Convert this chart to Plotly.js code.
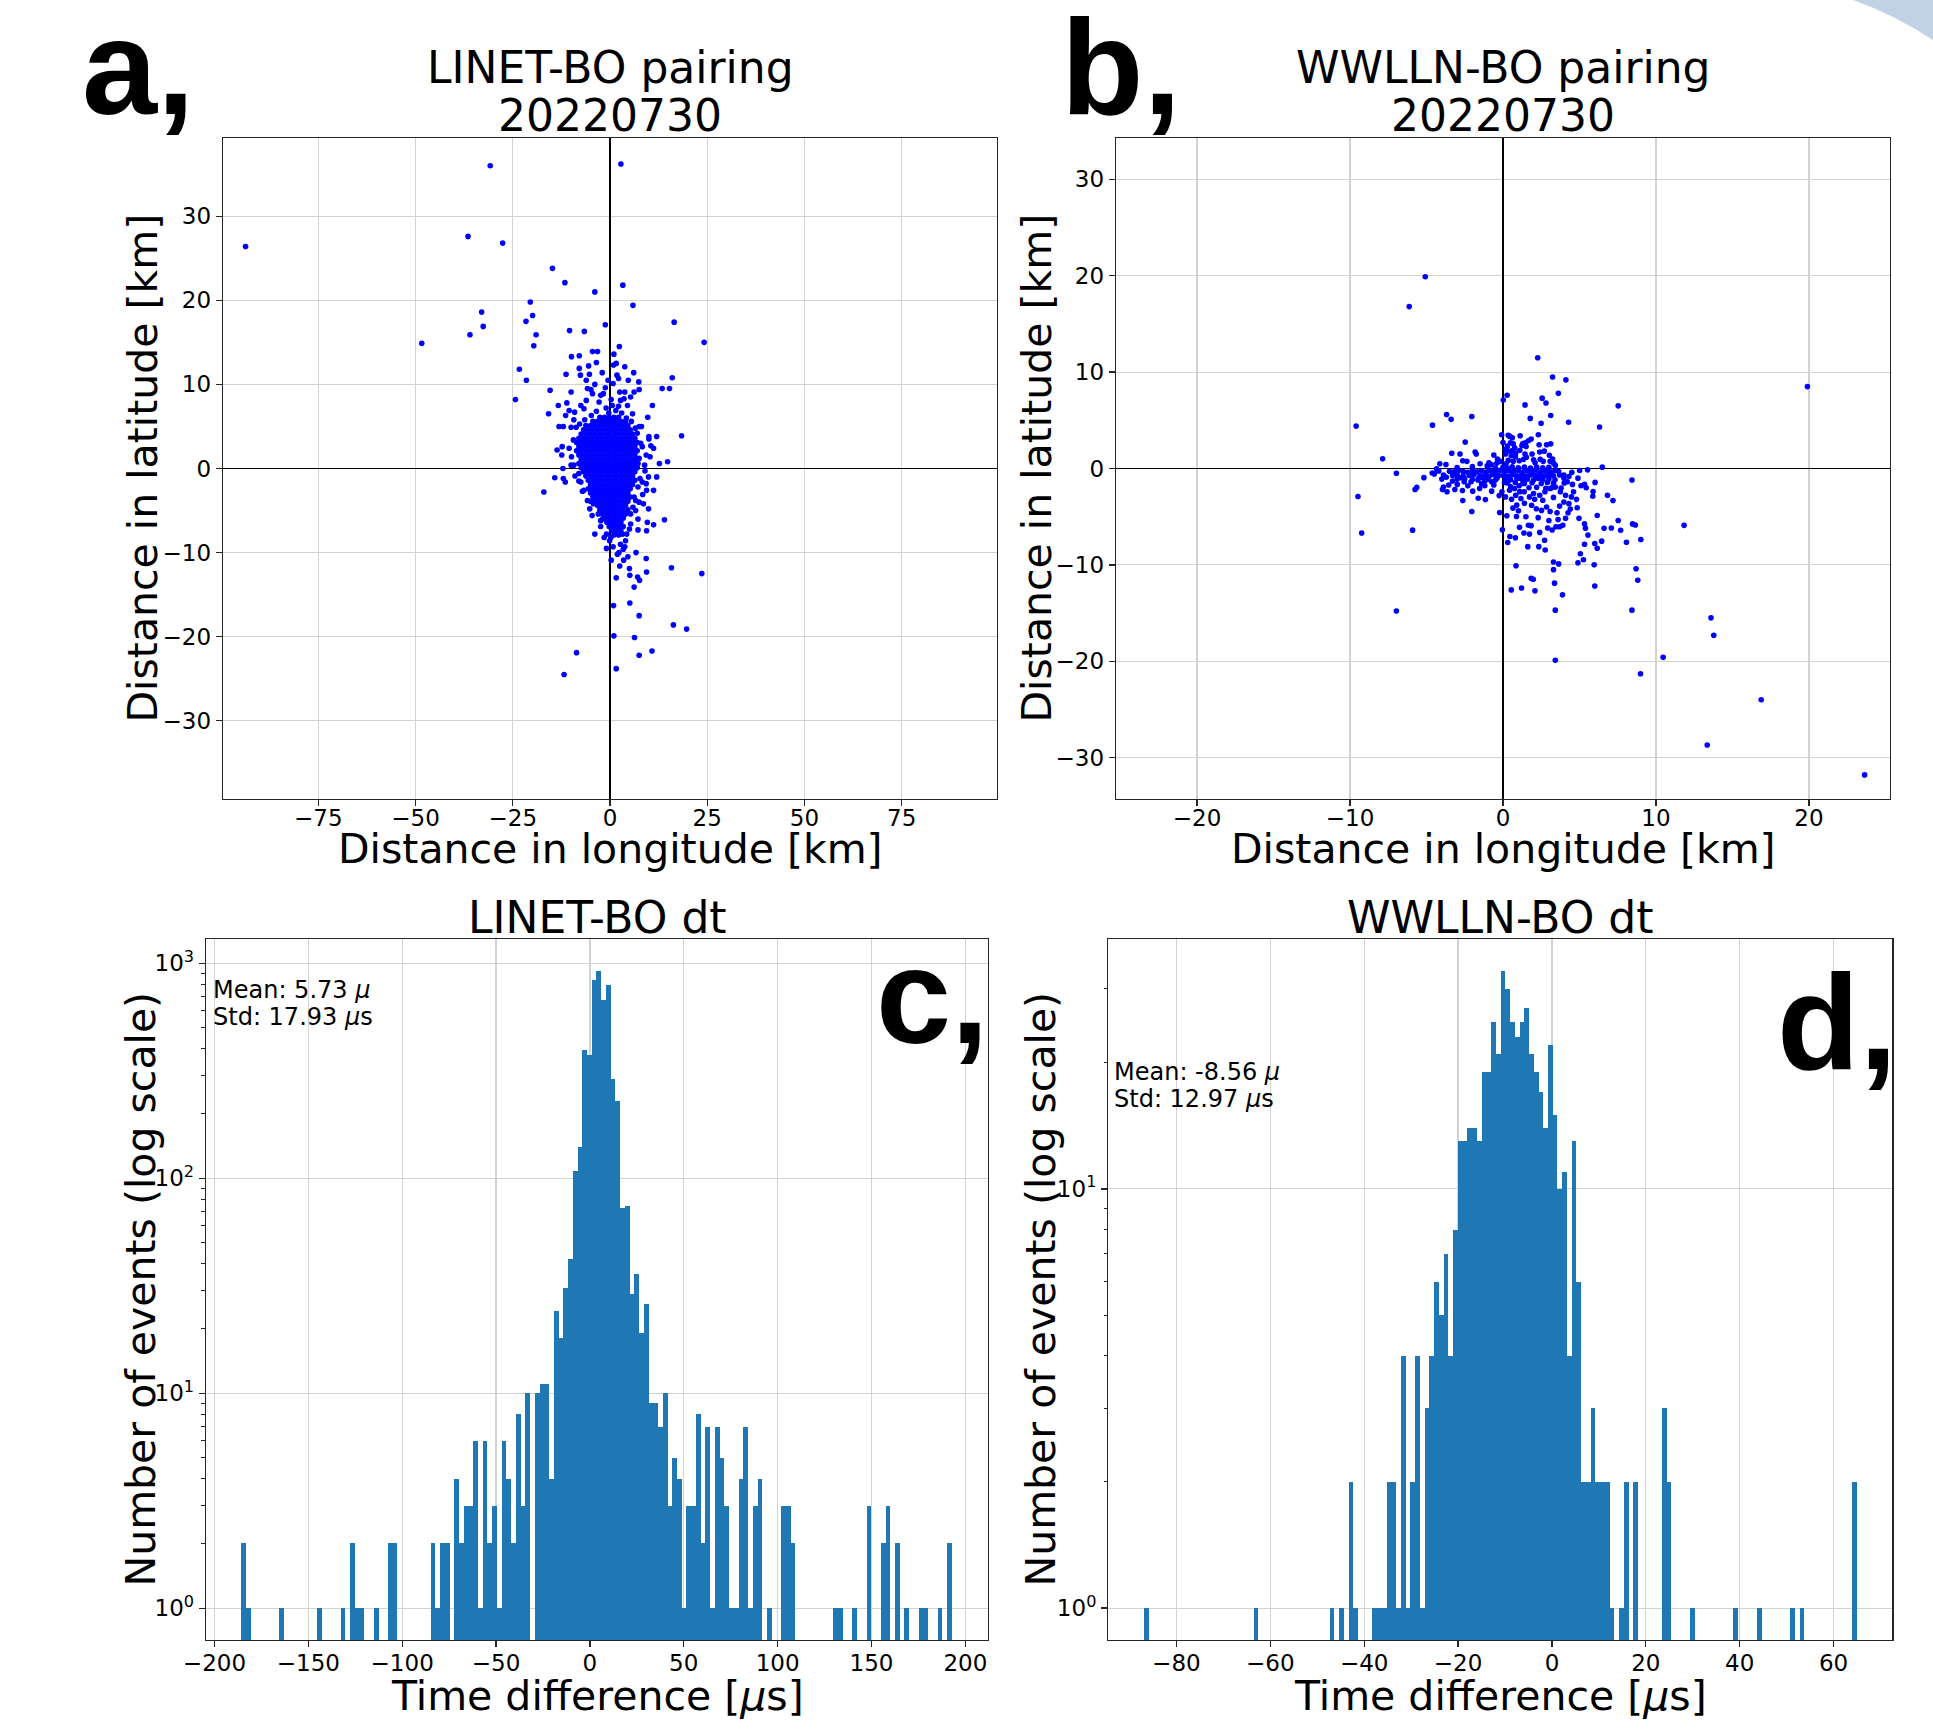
<!DOCTYPE html>
<html><head><meta charset="utf-8">
<script src="https://cdn.plot.ly/plotly-3.0.1.min.js"></script>
<style>html,body{margin:0;padding:0;background:#fff;}#chart{width:1933px;height:1730px;}</style>
</head><body><div id="chart"></div>
<script>
const W = 1933, H = 1730;

// ---------- Panel a: LINET-BO pairing offsets [km] ----------
const aOutliers = [[-93.7,26.4],[-30.8,36.0],[2.8,36.2],[-36.5,27.6],[-27.6,26.8],[-48.4,14.9],[-33.0,18.6],[-32.6,16.9],[-36.0,15.9],
[-14.8,23.8],[-11.6,22.1],[-3.9,21.0],[3.3,21.8],[5.9,19.4],[-20.5,19.8],[-19.9,18.2],[-21.6,17.5],[-19.0,15.9],[-19.6,14.6],
[-10.4,16.4],[-6.6,16.3],[-1.2,17.1],[16.5,17.4],[24.2,15.0],[2.4,14.5],[-4.5,13.9],[-3.2,13.9],[-9.9,13.3],[-7.9,13.4],
[-23.3,11.8],[-21.5,10.5],[-24.3,8.2],[-15.4,9.3],[16.0,10.8],[13.4,9.5],[15.3,9.5],[18.4,3.9],[14.8,0.8],[12.7,0.6],
[-17.0,-2.8],[-15.8,6.5],[14.0,-6.1],[15.8,-11.8],[23.6,-12.5],[16.3,-18.6],[19.7,-19.1],[10.8,-21.7],[7.5,-22.2],[6.3,-20.1],
[1.0,-19.9],[0.9,-16.3],[5.1,-16.0],[7.5,-17.5],[-8.6,-21.9],[-11.8,-24.5],[1.6,-23.8]];
const aFringe = [[1.0,13.6],[1.6,12.5],[0.9,12.3],[3.8,12.1],[1.8,11.1],[6.1,11.4],[4.7,10.5],[7.4,10.3],[7.5,9.4],[6.2,9.1],
[3.8,9.1],[2.5,9.1],[-1.2,9.6],[-3.9,10.0],[-7.9,11.9],[-7.6,11.1],[-5.5,12.2],[-5.3,11.2],[-6.1,10.5],[-5.8,9.5],
[-4.9,9.4],[-4.5,8.9],[-2.4,8.7],[-1.7,8.9],[-2.8,7.9],[-6.1,8.1],[-6.7,7.1],[-7.5,7.5],[-9.1,6.7],[-10.5,6.9],
[-9.3,5.8],[-8.7,4.9],[-10.0,4.9],[0.3,8.2],[0.6,7.5],[2.7,8.1],[3.6,8.3],[5.3,8.5],[4.5,7.5],[5.8,6.5],
[5.5,5.6],[7.5,5.0],[8.1,5.0],[9.7,6.1],[10.9,7.5],[7.0,4.2],[10.0,3.8],[10.0,3.5],[12.0,3.8],[7.9,3.0],
[8.3,2.6],[10.5,2.7],[11.2,2.4],[9.3,1.6],[10.3,1.4],[7.5,1.2],[7.2,0.6],[9.0,-0.3],[7.7,-1.2],[9.9,-1.0],
[12.0,-1.0],[8.3,-1.6],[9.3,-1.8],[7.2,-2.2],[9.4,-2.6],[11.2,-2.6],[6.2,-3.4],[6.6,-3.8],[7.5,-4.0],[8.6,-4.2],
[9.9,-4.8],[5.9,-4.6],[5.3,-5.4],[7.2,-6.0],[5.3,-6.6],[5.0,-7.2],[3.2,-7.8],[4.3,-7.8],[4.0,-8.6],[2.7,-9.0],
[3.4,-9.6],[2.3,-10.0],[1.9,-10.2],[0.2,-8.2],[-0.1,-8.6],[-0.9,-7.8],[-2.4,-6.9],[-1.9,-6.0],[-3.0,-5.4],[-4.3,-4.2],
[-5.8,-3.8],[-6.7,-2.6],[-7.5,-1.6],[-8.0,-0.6],[-9.3,0.4],[-9.9,1.4],[-10.5,2.4],[-9.4,3.4],[-10.0,0.4],[-12.1,0.0],
[-14.2,-1.1],[-12.0,-1.2],[-11.5,-1.6],[-8.0,-1.5],[-7.1,-2.7],[-13.6,2.2],[-12.3,2.6],[-12.4,1.6],[-13.1,5.0],[-12.0,5.0],
[-13.3,7.5],[-11.1,7.8],[-11.4,6.3],[-10.0,9.1],[-11.3,11.2],[-3.9,-7.8],[-2.4,-6.2],[-0.9,-9.5],[0.3,-10.9],[2.5,-11.6],
[3.5,-10.9],[5.0,-11.9],[6.7,-10.0],[9.3,-10.7],[9.4,-12.3],[5.1,-12.7],[7.1,-12.9],[7.6,-13.3],[6.2,-14.1],[1.6,-13.0],
[11.2,-6.7],[9.4,-7.4],[9.6,-6.4],[7.2,-7.3],[-3.5,6.8],[-1.0,7.2],[1.5,6.9],[3.0,6.6],[-4.8,6.3],[-0.3,6.6],
[2.2,7.4],[4.2,6.0],[-6.5,5.8],[-7.8,5.3],[6.5,4.8],[-0.5,10.5],[0.8,10.1],[2.2,10.7],[-2.0,11.4],[-3.5,12.6],
[6.6,-5.0],[3.8,-9.3],[0.8,-9.3],[-1.5,-8.2],[4.6,-10.5],[-4.6,-5.6],[-5.2,-4.8],[8.4,-3.1],[8.9,0.4],[-9.0,-0.9]];
const aCoreRowY = [6.1,5.6,5.1,4.6,4.1,3.6,3.1,2.6,2.1,1.6,1.1,0.6,0.1,-0.4,-0.9,-1.4,-1.9,-2.4,-2.9,-3.4,-3.9,-4.4,-4.9,-5.4,-5.9,-6.4,-6.9,-7.4,-7.9];
const aCoreRowX = [
[-2.6,-1.4,-0.2,1.0,2.2],
[-4.4,-3.2,-2.0,-0.8,0.4,1.6,2.8,4.0],
[-6.2,-5.0,-3.8,-2.6,-1.4,-0.2,1.0,2.2,3.4,4.6],
[-6.8,-5.6,-4.4,-3.2,-2.0,-0.8,0.4,1.6,2.8,4.0,5.2],
[-7.4,-6.2,-5.0,-3.8,-2.6,-1.4,-0.2,1.0,2.2,3.4,4.6,5.8],
[-8.0,-6.8,-5.6,-4.4,-3.2,-2.0,-0.8,0.4,1.6,2.8,4.0,5.2,6.4],
[-8.6,-7.4,-6.2,-5.0,-3.8,-2.6,-1.4,-0.2,1.0,2.2,3.4,4.6,5.8,7.0],
[-8.0,-6.8,-5.6,-4.4,-3.2,-2.0,-0.8,0.4,1.6,2.8,4.0,5.2,6.4],
[-8.6,-7.4,-6.2,-5.0,-3.8,-2.6,-1.4,-0.2,1.0,2.2,3.4,4.6,5.8,7.0],
[-8.0,-6.8,-5.6,-4.4,-3.2,-2.0,-0.8,0.4,1.6,2.8,4.0,5.2,6.4],
[-7.4,-6.2,-5.0,-3.8,-2.6,-1.4,-0.2,1.0,2.2,3.4,4.6,5.8,7.0],
[-8.0,-6.8,-5.6,-4.4,-3.2,-2.0,-0.8,0.4,1.6,2.8,4.0,5.2,6.4],
[-7.4,-6.2,-5.0,-3.8,-2.6,-1.4,-0.2,1.0,2.2,3.4,4.6,5.8,7.0],
[-6.8,-5.6,-4.4,-3.2,-2.0,-0.8,0.4,1.6,2.8,4.0,5.2,6.4],
[-6.2,-5.0,-3.8,-2.6,-1.4,-0.2,1.0,2.2,3.4,4.6,5.8],
[-5.6,-4.4,-3.2,-2.0,-0.8,0.4,1.6,2.8,4.0,5.2,6.4],
[-5.0,-3.8,-2.6,-1.4,-0.2,1.0,2.2,3.4,4.6,5.8],
[-5.6,-4.4,-3.2,-2.0,-0.8,0.4,1.6,2.8,4.0,5.2],
[-5.0,-3.8,-2.6,-1.4,-0.2,1.0,2.2,3.4,4.6],
[-4.4,-3.2,-2.0,-0.8,0.4,1.6,2.8,4.0,5.2],
[-5.0,-3.8,-2.6,-1.4,-0.2,1.0,2.2,3.4,4.6],
[-3.2,-2.0,-0.8,0.4,1.6,2.8,4.0],
[-2.6,-1.4,-0.2,1.0,2.2,3.4,4.6],
[-2.0,-0.8,0.4,1.6,2.8,4.0],
[-1.4,-0.2,1.0,2.2,3.4],
[-0.8,0.4,1.6,2.8],
[-0.2,1.0,2.2,3.4],
[0.4,1.6,2.8],
[1.0,2.2]];

// ---------- Panel b: WWLLN-BO pairing offsets [km] ----------
const bSparse = [[-5.08,19.9],[-6.13,16.8],[2.27,11.5],[3.24,9.5],[4.11,9.2],[3.62,7.8],[19.9,8.5],[0.27,7.6],[0.02,7.1],[2.56,7.3],
[2.81,6.8],[1.44,6.6],[7.53,6.5],[3.12,5.5],[-2.04,5.4],[-3.69,5.6],[-3.39,5.1],[-4.61,4.5],[-9.6,4.4],[1.78,5.2],
[2.49,4.7],[4.29,4.8],[6.31,4.3],[-7.87,1.0],[-6.97,-0.5],[-9.48,-2.9],[-9.24,-6.7],[-5.91,-6.4],[-6.97,-14.8],[-5.17,-0.95],
[-5.75,-2.18],[-5.64,-1.96],[0.85,-10.1],[0.54,-12.6],[1.21,-12.4],[1.84,-11.4],[1.98,-11.5],[2.09,-12.7],[3.37,-11.9],[3.89,-13.1],
[3.42,-14.7],[3.42,-19.9],[6.0,-12.2],[5.96,-10.0],[3.30,-9.7],[3.64,-9.9],[3.30,-10.5],[8.43,-14.7],[8.70,-10.4],[8.81,-11.6],
[8.99,-21.3],[10.47,-19.6],[11.84,-5.9],[13.6,-15.5],[13.78,-17.3],[16.88,-24.0],[13.35,-28.7],[23.64,-31.8]];
const bMid = [[8.43,-1.2],[9.01,-7.37],[8.07,-7.65],[8.47,-5.75],[8.65,-5.86],[7.53,-5.40],[7.69,-6.42],[7.08,-6.18],[6.61,-6.21],[6.45,-7.54],
[6.16,-8.28],[6.00,-7.79],[7.19,-3.33],[6.83,-2.77],[6.49,0.14],[5.53,-0.14],[5.01,-0.21],[6.02,-1.44],[5.89,-2.39],[5.87,-2.88],
[6.16,-4.88],[5.33,-5.75],[5.39,-6.21],[5.55,-6.91],[5.33,-7.86],[5.06,-8.84],[5.26,-9.47],[4.90,-9.79],[4.85,-4.07],[4.97,-5.16],
[4.25,-4.60],[4.09,-5.16],[3.91,-5.89],[3.71,-6.04],[3.46,-6.04],[3.21,-6.39],[2.92,-6.18],[2.72,-7.44],[2.40,-6.63],[2.34,-8.11],
[2.76,-8.46],[1.62,-8.11],[0.31,-7.68],[0.45,-7.05],[0.81,-7.19],[1.08,-6.11],[1.37,-6.70],[1.73,-6.81],[1.84,-5.93],[1.66,-5.89],
[0.25,-4.91],[0.88,-4.98],[0.65,-4.11],[1.01,-4.39],[-2.04,-4.46],[-2.63,-3.33],[-1.62,-3.09],[-1.15,-3.23],[-0.22,-4.56],[-0.04,-6.35],
[1.87,-3.82],[2.18,-4.18],[2.52,-4.35],[2.85,-4.00],[3.08,-4.46],[3.53,-4.60],[3.98,-3.47],[4.31,-3.65],[4.47,-2.95],[4.61,-2.42],
[5.10,-1.79],[5.33,-1.65],[5.44,-2.00],[1.73,-2.95],[2.07,-3.19],[2.40,-2.77],[2.74,-2.42],[3.08,-2.07],[3.42,-1.93],[3.75,-2.42],
[4.09,-2.77],[4.20,-1.37],[3.98,-1.02],[4.31,-0.84],[4.54,-1.65],[0.83,-2.77],[1.17,-3.12],[1.39,-2.42],[0.56,-3.19],[0.16,-2.95],
[-0.07,-2.42],[-0.25,-2.81],[0.43,-2.25],[0.76,-2.07],[1.06,-1.79],[1.28,-1.54],[-2.65,-2.28],[-1.98,-2.35],[-1.53,-2.07],[-1.19,-1.79],
[-0.74,-2.35],[-3.15,-2.18],[-3.66,-2.42],[-3.96,-2.18],[-3.89,-1.93],[-3.55,-1.72],[-2.99,-1.65],[-2.54,-1.37],[-2.09,-1.37],[-1.64,-1.19],
[-1.19,-1.30],[-0.74,-1.37],[-0.40,-1.02],
[0.5,-1.9],[1.1,-2.4],[2.0,-2.6],[2.6,-3.3],[3.3,-3.0],[3.7,-3.9],[1.4,-3.6],[0.9,-3.8],[2.3,-5.1],[3.0,-5.4],
[1.5,-5.0],[3.6,-5.3],[4.4,-4.2],[4.8,-3.2],[-0.6,-1.7],[-1.4,-1.6],[-2.3,-1.8],[-3.3,-1.3],[-4.0,-1.1],[-2.8,-0.95],
[-1.3,-0.95],[0.1,-1.45],[1.1,-1.0],[4.5,-0.4],[4.9,-1.0]];
const bUpper = [[-0.09,3.51],[0.34,3.44],[0.45,3.33],[0.61,3.19],[1.12,3.40],[1.30,2.60],[1.46,2.67],[1.66,2.88],[1.84,3.05],[1.51,2.28],
[1.24,2.39],[2.31,3.51],[2.36,2.46],[2.40,1.72],[2.43,0.95],[2.85,2.46],[3.12,2.56],[3.24,0.98],[3.30,0.56],[0.29,2.32],
[0.38,1.79],[0.61,1.86],[0.83,1.61],[0.54,1.33],[0.81,1.23],[0.34,0.84],[0.67,0.74],[0.20,0.49],[0.49,2.67],[0.67,2.56],
[0.76,2.14],[0.16,1.96],[0.16,1.51],[-0.36,0.98],[-0.40,0.56],[-0.18,0.74],[1.44,1.51],[1.53,1.16],[1.35,0.95],[1.06,0.81],
[-0.92,0.60],[-0.74,0.39],[-1.03,0.28],[-2.47,2.74],[-1.82,1.72],[-1.75,1.51],[-3.35,1.58],[-2.81,1.51],[-2.63,0.81],[-2.36,0.74],
[-4.13,0.49],[-3.73,0.42],[-4.34,-0.04],[-4.20,-0.25],[-4.63,-0.46],[-4.49,-0.56],[-3.89,-0.67],[-3.71,-0.91],[3.08,0.74],[3.42,0.32],
[3.64,-0.32],[3.98,-0.67],[3.03,1.37],[2.63,0.74],[1.9,1.5],[2.1,0.6],[-1.5,0.5],[-2.0,0.2],[-3.0,0.1],
[2.0,0.9],[2.7,1.8],[1.1,1.9],[0.0,2.7],[-0.6,1.4]];
const bBand = [[-3.5,-0.28],[-3.2,-0.35],[-2.9,-0.22],[-2.6,-0.31],[-2.3,-0.4],[-2.0,-0.25],[-1.7,-0.33],[-1.4,-0.2],[-1.1,-0.36],[-0.8,-0.27],
[-0.5,-0.3],[-0.2,-0.18],[0.1,-0.34],[0.4,-0.24],[0.7,-0.31],[1.0,-0.2],[1.3,-0.37],[1.6,-0.26],[1.9,-0.3],[2.2,-0.21],
[2.5,-0.35],[2.8,-0.27],[3.1,-0.33],[3.4,-0.22],[-3.3,-0.72],[-3.0,-0.65],[-2.6,-0.78],[-2.2,-0.7],[-1.9,-0.62],[-1.5,-0.75],
[-1.2,-0.68],[-0.9,-0.8],[-0.6,-0.66],[-0.3,-0.74],[0.0,-0.7],[0.3,-0.8],[0.6,-0.64],[0.9,-0.76],[1.2,-0.7],[1.5,-0.82],
[1.8,-0.68],[2.1,-0.74],[2.4,-0.66],[2.7,-0.78],[3.0,-0.7],[3.3,-0.75],[3.7,-0.68],[-3.0,-1.1],[-2.5,-1.05],[-2.0,-1.15],
[-1.6,-1.02],[-1.0,-1.12],[-0.5,-1.2],[0.2,-1.08],[0.5,-1.16],[0.9,-1.05],[1.3,-1.14],[1.6,-1.1],[2.0,-1.2],[2.3,-1.04],
[2.6,-1.13],[3.0,-1.08],[3.4,-1.18],[-1.0,0.12],[-0.5,0.05],[0.0,0.15],[0.3,0.02],[0.6,0.18],[1.0,0.08],[1.4,0.14],
[1.8,0.04],[2.2,0.16],[2.6,0.06],[3.0,0.12],[0.3,-1.5],[0.8,-1.45],[1.4,-1.55],[1.9,-1.48],[2.5,-1.56],[2.9,-1.44],
[3.3,-1.52],[4.0,-1.5],[1.7,-2.0],[2.2,-1.95],[2.8,-2.05],[3.2,-1.98],[3.8,-2.02]];

// ---------- Panel c: LINET-BO dt histogram (150 bins) ----------
const cBinStart = -185.8, cBinWidth = 2.524;
const cCounts = [
2,1,0,0,0,0,0,0,1,0, 0,0,0,0,0,0,1,0,0,0, 0,1,0,2,1,1,0,0,1,0, 0,2,2,0,0,0,0,0,0,0,
2,1,2,2,0,4,2,3,3,6, 1,6,2,3,1,6,4,2,8,3, 10,0,10,11,11,4,24,18,31,42, 108,139,393,375,834,918,673,792,290,228,
73,74,29,36,19,26,9,9,7,10, 3,5,4,1,3,3,8,2,7,1, 7,5,3,1,1,4,7,1,3,4, 0,1,0,0,3,3,2,0,0,0,
0,0,0,0,0,1,1,0,0,1, 0,0,3,0,0,2,3,0,2,0, 1,0,0,1,1,0,0,1,0,2];
const cStats = ['Mean: 5.73 <i>μ</i>', 'Std: 17.93 <i>μ</i>s'];

// ---------- Panel d: WWLLN-BO dt histogram (150 bins) ----------
const dBinStart = -86.8, dBinWidth = 1.0113;
const dCounts = [
1,0,0,0,0,0,0,0,0,0, 0,0,0,0,0,0,0,0,0,0, 0,0,0,1,0,0,0,0,0,0, 0,0,0,0,0,0,0,0,0,1,
0,1,0,2,1,0,0,0,1,1, 1,2,2,1,4,1,2,4,1,3, 4,6,5,7,4,8,13,13,14,14, 13,19,19,25,21,33,30,25,23,25,
27,21,19,17,14,22,15,10,11,4, 13,6,2,2,3,2,2,2,1,0, 1,2,0,2,0,0,0,0,0,3, 2,0,0,0,0,1,0,0,0,0,
0,0,0,0,1,0,0,0,0,1, 0,0,0,0,0,0,1,0,1,0, 0,0,0,0,0,0,0,0,0,2];
const dStats = ['Mean: -8.56 <i>μ</i>', 'Std: 12.97 <i>μ</i>s'];

// ---------- text ----------
const titlesTop = [['LINET-BO pairing','20220730'],['WWLLN-BO pairing','20220730']];
const titlesBottom = ['LINET-BO dt','WWLLN-BO dt'];
const xLabTop = 'Distance in longitude [km]', yLabTop = 'Distance in latitude [km]';
const xLabBottom = 'Time difference [<i>μ</i>s]', yLabBottom = 'Number of events (log scale)';
const panelLetters = ['a,','b,','c,','d,'];

// ---------- build traces ----------
const aPts = [];
aCoreRowY.forEach((y,i)=>aCoreRowX[i].forEach(x=>aPts.push([x,y])));
aFringe.forEach(p=>aPts.push(p));
aOutliers.forEach(p=>aPts.push(p));
const bPts = bBand.concat(bUpper, bMid, bSparse);

const dot = {size: 5.6, color: '#0000ff', line: {width: 0}};
const histColor = '#1f77b4';
function binCenters(start, w, n){ const c=[]; for(let i=0;i<n;i++) c.push(start + (i+0.5)*w); return c; }
const nz = arr => arr.map(v => v > 0 ? v : null);

const traces = [
 {type:'scatter', mode:'markers', x:aPts.map(p=>p[0]), y:aPts.map(p=>p[1]), marker:dot, xaxis:'x', yaxis:'y', hoverinfo:'skip'},
 {type:'scatter', mode:'markers', x:bPts.map(p=>p[0]), y:bPts.map(p=>p[1]), marker:dot, xaxis:'x2', yaxis:'y2', hoverinfo:'skip'},
 {type:'bar', x:binCenters(cBinStart,cBinWidth,cCounts.length), y:nz(cCounts), width:cBinWidth,
  marker:{color:histColor, line:{width:0}}, xaxis:'x3', yaxis:'y3', hoverinfo:'skip'},
 {type:'bar', x:binCenters(dBinStart,dBinWidth,dCounts.length), y:nz(dCounts), width:dBinWidth,
  marker:{color:histColor, line:{width:0}}, xaxis:'x4', yaxis:'y4', hoverinfo:'skip'}
];

// ---------- layout ----------
const FONT = 'DejaVu Sans';
const base = {showline:true, mirror:true, linecolor:'#262626', linewidth:1.3, showgrid:true, gridcolor:'#d2d2d2', gridwidth:1.2,
  ticks:'outside', ticklen:6, tickwidth:1.3, tickcolor:'#262626', tickfont:{family:FONT, size:23, color:'#000'},
  zeroline:false, fixedrange:true, tickmode:'array'};
const zl = {zeroline:true, zerolinecolor:'#000', zerolinewidth:1.8};
const fx = px => px / W, fy = py => 1 - py / H;
const minorLog = {ticks:'outside', ticklen:3.5, tickwidth:1, tickcolor:'#262626', tickmode:'array', showgrid:false,
  tickvals:[2,3,4,5,6,7,8,9,20,30,40,50,60,70,80,90,200,300,400,500,600,700,800,900]};

const layout = {
  width:W, height:H, autosize:false, margin:{l:0,r:0,t:0,b:0,pad:0},
  paper_bgcolor:'#fff', plot_bgcolor:'#fff', showlegend:false, bargap:0,
  font:{family:FONT, color:'#000'},
  xaxis: Object.assign({}, base, zl, {domain:[fx(223),fx(997)], anchor:'y', range:[-99.5,99.5], tickvals:[-75,-50,-25,0,25,50,75], ticklabelstandoff:-8}),
  yaxis: Object.assign({}, base, zl, {domain:[fy(799),fy(138)], anchor:'x', range:[-39.3,39.3], tickvals:[-30,-20,-10,0,10,20,30]}),
  xaxis2: Object.assign({}, base, zl, {domain:[fx(1116),fx(1890)], anchor:'y2', range:[-25.3,25.3], tickvals:[-20,-10,0,10,20], ticklabelstandoff:-8}),
  yaxis2: Object.assign({}, base, zl, {domain:[fy(799),fy(138)], anchor:'x2', range:[-34.3,34.3], tickvals:[-30,-20,-10,0,10,20,30]}),
  xaxis3: Object.assign({}, base, {domain:[fx(206),fx(987.5)], anchor:'y3', range:[-204.5,211.8], tickvals:[-200,-150,-100,-50,0,50,100,150,200], ticklabelstandoff:-4}),
  yaxis3: Object.assign({}, base, {domain:[fy(1640),fy(939.4)], anchor:'x3', type:'log', range:[-0.148,3.111],
    tickvals:[1,10,100,1000], ticktext:['10<sup>0</sup>','10<sup>1</sup>','10<sup>2</sup>','10<sup>3</sup>'], minor:minorLog}),
  xaxis4: Object.assign({}, base, {domain:[fx(1108.3),fx(1892.3)], anchor:'y4', range:[-94.5,72.5], tickvals:[-80,-60,-40,-20,0,20,40,60], ticklabelstandoff:-4}),
  yaxis4: Object.assign({}, base, {domain:[fy(1640),fy(939.4)], anchor:'x4', type:'log', range:[-0.076,1.595],
    tickvals:[1,10], ticktext:['10<sup>0</sup>','10<sup>1</sup>'], minor:minorLog}),
  annotations: [],
  shapes: [{type:'path', xref:'paper', yref:'paper', layer:'below',
    path:'M '+fx(1853)+','+fy(0)+' Q '+fx(1893)+','+fy(14)+' '+fx(1933)+','+fy(40)+' L 1,1 Z',
    fillcolor:'#c1d1e6', line:{width:0}}]
};

function ann(text, xpx, ypx, size, o){
  return Object.assign({text:text, x:fx(xpx), y:fy(ypx), xref:'paper', yref:'paper', showarrow:false,
    xanchor:'center', yanchor:'middle', font:{family:FONT, size:size, color:'#000'}}, o||{});
}
const A = layout.annotations;
// panel titles
A.push(ann(titlesTop[0][0], 610, 68, 44)); A.push(ann(titlesTop[0][1], 610, 115, 44));
A.push(ann(titlesTop[1][0], 1503, 68, 44)); A.push(ann(titlesTop[1][1], 1503, 115, 44));
A.push(ann(titlesBottom[0], 597, 917, 44)); A.push(ann(titlesBottom[1], 1500, 917, 44));
// axis labels
A.push(ann(xLabTop, 610, 849, 41)); A.push(ann(xLabTop, 1503, 849, 41));
A.push(ann(yLabTop, 142, 468.5, 41, {textangle:-90})); A.push(ann(yLabTop, 1036, 468.5, 41, {textangle:-90}));
A.push(ann(xLabBottom, 597, 1696, 41)); A.push(ann(xLabBottom, 1500, 1696, 41));
A.push(ann(yLabBottom, 140, 1289.5, 41, {textangle:-90})); A.push(ann(yLabBottom, 1040, 1289.5, 41, {textangle:-90}));
// stats
A.push(ann(cStats[0], 211, 990, 24, {xanchor:'left'})); A.push(ann(cStats[1], 211, 1017, 24, {xanchor:'left'}));
A.push(ann(dStats[0], 1112, 1071.5, 24, {xanchor:'left'})); A.push(ann(dStats[1], 1112, 1098.5, 24, {xanchor:'left'}));
// panel letters
const LF = {family:'Liberation Sans', size:135, color:'#000'};
A.push(ann('<b>'+panelLetters[0]+'</b>', 80, 68, 135, {xanchor:'left', font:LF}));
A.push(ann('<b>'+panelLetters[1]+'</b>', 1059, 68, 135, {xanchor:'left', font:LF}));
A.push(ann('<b>'+panelLetters[2]+'</b>', 874, 997, 135, {xanchor:'left', font:LF}));
A.push(ann('<b>'+panelLetters[3]+'</b>', 1775, 1022, 135, {xanchor:'left', font:LF}));

Plotly.newPlot('chart', traces, layout, {displayModeBar:false, staticPlot:true});
</script></body></html>
